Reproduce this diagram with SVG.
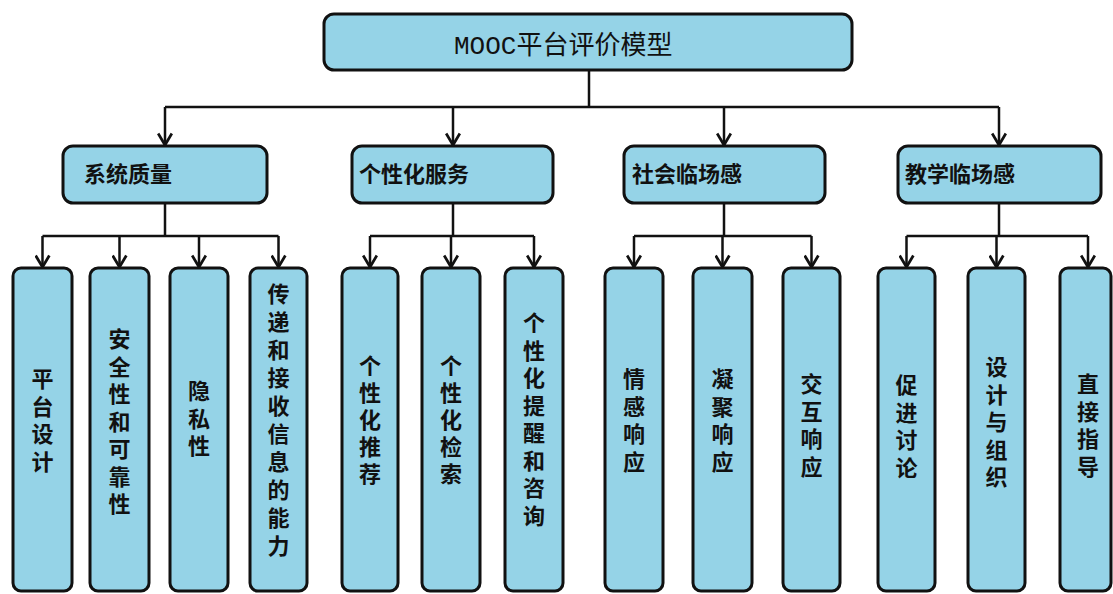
<svg xmlns="http://www.w3.org/2000/svg" width="1113" height="594" viewBox="0 0 1113 594">
<defs>
<marker id="arr" markerUnits="userSpaceOnUse" markerWidth="16" markerHeight="16" refX="11" refY="7" orient="auto" viewBox="0 0 14 14">
<path d="M1,1 L11,7 L1,13" fill="none" stroke="#111" stroke-width="2.4"/>
</marker>
<style>
.box{fill:#95D3E7;stroke:#111;stroke-width:3}
.ln{fill:none;stroke:#111;stroke-width:2.5}
.ar{fill:none;stroke:#111;stroke-width:2.5;marker-end:url(#arr)}
.top{font-family:"Liberation Mono","Noto Sans CJK SC",monospace;font-size:26px;fill:#111}
.l2{font-family:"Noto Sans CJK SC",sans-serif;font-size:22px;font-weight:bold;fill:#111}
.lf{font-family:"Liberation Sans","Noto Sans CJK SC",sans-serif;font-size:22px;font-weight:bold;fill:#111;text-anchor:middle}
</style>
</defs>
<rect width="1113" height="594" fill="#fff"/>
<g id="connectors">
<path class="ln" d="M589,70 V107 M165,107 H999"/>
<path class="ar" d="M165,107 V145"/>
<path class="ar" d="M453,107 V145"/>
<path class="ar" d="M724,107 V145"/>
<path class="ar" d="M999,107 V145"/>
<path class="ln" d="M165,203 V236 M42.5,236 H278.5"/>
<path class="ar" d="M42.5,236 V267"/>
<path class="ar" d="M119.5,236 V267"/>
<path class="ar" d="M199,236 V267"/>
<path class="ar" d="M278.5,236 V267"/>
<path class="ln" d="M453,203 V236 M370,236 H534"/>
<path class="ar" d="M370,236 V267"/>
<path class="ar" d="M451,236 V267"/>
<path class="ar" d="M534,236 V267"/>
<path class="ln" d="M724,203 V236 M634,236 H811.5"/>
<path class="ar" d="M634,236 V267"/>
<path class="ar" d="M722.5,236 V267"/>
<path class="ar" d="M811.5,236 V267"/>
<path class="ln" d="M999,203 V236 M906.5,236 H1088"/>
<path class="ar" d="M906.5,236 V267"/>
<path class="ar" d="M996.5,236 V267"/>
<path class="ar" d="M1088,236 V267"/>
</g>
<g id="root">
<rect class="box" x="324" y="14" width="528" height="56" rx="10"/>
<text class="top" x="454" y="54">MOOC平台评价模型</text>
</g>
<g id="n-xitong">
<rect class="box" x="63" y="146" width="204" height="57" rx="10"/>
<text class="l2" x="84" y="182">系统质量</text>
</g>
<g id="n-gexinghua">
<rect class="box" x="352" y="146" width="201" height="57" rx="10"/>
<text class="l2" x="359" y="182">个性化服务</text>
</g>
<g id="n-shehui">
<rect class="box" x="624" y="146" width="201" height="57" rx="10"/>
<text class="l2" x="632" y="182">社会临场感</text>
</g>
<g id="n-jiaoxue">
<rect class="box" x="898" y="146" width="203" height="57" rx="10"/>
<text class="l2" x="905" y="182">教学临场感</text>
</g>
<g id="leaf1">
<rect class="box" x="13" y="268" width="59" height="323" rx="8"/>
<text class="lf" x="42.5" y="387"><tspan x="42.5">平</tspan><tspan x="42.5" dy="27.5">台</tspan><tspan x="42.5" dy="27.5">设</tspan><tspan x="42.5" dy="27.5">计</tspan></text>
</g>
<g id="leaf2">
<rect class="box" x="90" y="268" width="59" height="323" rx="8"/>
<text class="lf" x="119.5" y="347"><tspan x="119.5">安</tspan><tspan x="119.5" dy="27.5">全</tspan><tspan x="119.5" dy="27.5">性</tspan><tspan x="119.5" dy="27.5">和</tspan><tspan x="119.5" dy="27.5">可</tspan><tspan x="119.5" dy="27.5">靠</tspan><tspan x="119.5" dy="27.5">性</tspan></text>
</g>
<g id="leaf3">
<rect class="box" x="170" y="268" width="58" height="323" rx="8"/>
<text class="lf" x="199" y="399"><tspan x="199">隐</tspan><tspan x="199" dy="27.5">私</tspan><tspan x="199" dy="27.5">性</tspan></text>
</g>
<g id="leaf4">
<rect class="box" x="250" y="268" width="57" height="323" rx="8"/>
<text class="lf" x="278.5" y="302"><tspan x="278.5">传</tspan><tspan x="278.5" dy="28">递</tspan><tspan x="278.5" dy="28">和</tspan><tspan x="278.5" dy="28">接</tspan><tspan x="278.5" dy="28">收</tspan><tspan x="278.5" dy="28">信</tspan><tspan x="278.5" dy="28">息</tspan><tspan x="278.5" dy="28">的</tspan><tspan x="278.5" dy="28">能</tspan><tspan x="278.5" dy="28">力</tspan></text>
</g>
<g id="leaf5">
<rect class="box" x="342" y="268" width="56" height="323" rx="8"/>
<text class="lf" x="370" y="374"><tspan x="370">个</tspan><tspan x="370" dy="27">性</tspan><tspan x="370" dy="27">化</tspan><tspan x="370" dy="27">推</tspan><tspan x="370" dy="27">荐</tspan></text>
</g>
<g id="leaf6">
<rect class="box" x="422" y="268" width="58" height="323" rx="8"/>
<text class="lf" x="451" y="374"><tspan x="451">个</tspan><tspan x="451" dy="27">性</tspan><tspan x="451" dy="27">化</tspan><tspan x="451" dy="27">检</tspan><tspan x="451" dy="27">索</tspan></text>
</g>
<g id="leaf7">
<rect class="box" x="505" y="268" width="58" height="323" rx="8"/>
<text class="lf" x="534" y="331"><tspan x="534">个</tspan><tspan x="534" dy="27.5">性</tspan><tspan x="534" dy="27.5">化</tspan><tspan x="534" dy="27.5">提</tspan><tspan x="534" dy="27.5">醒</tspan><tspan x="534" dy="27.5">和</tspan><tspan x="534" dy="27.5">咨</tspan><tspan x="534" dy="27.5">询</tspan></text>
</g>
<g id="leaf8">
<rect class="box" x="605" y="268" width="58" height="323" rx="8"/>
<text class="lf" x="634" y="387"><tspan x="634">情</tspan><tspan x="634" dy="27.5">感</tspan><tspan x="634" dy="27.5">响</tspan><tspan x="634" dy="27.5">应</tspan></text>
</g>
<g id="leaf9">
<rect class="box" x="693" y="268" width="59" height="323" rx="8"/>
<text class="lf" x="722.5" y="387"><tspan x="722.5">凝</tspan><tspan x="722.5" dy="27.5">聚</tspan><tspan x="722.5" dy="27.5">响</tspan><tspan x="722.5" dy="27.5">应</tspan></text>
</g>
<g id="leaf10">
<rect class="box" x="783" y="268" width="57" height="323" rx="8"/>
<text class="lf" x="811.5" y="392"><tspan x="811.5">交</tspan><tspan x="811.5" dy="27.5">互</tspan><tspan x="811.5" dy="27.5">响</tspan><tspan x="811.5" dy="27.5">应</tspan></text>
</g>
<g id="leaf11">
<rect class="box" x="878" y="268" width="57" height="323" rx="8"/>
<text class="lf" x="906.5" y="393"><tspan x="906.5">促</tspan><tspan x="906.5" dy="27.5">进</tspan><tspan x="906.5" dy="27.5">讨</tspan><tspan x="906.5" dy="27.5">论</tspan></text>
</g>
<g id="leaf12">
<rect class="box" x="968" y="268" width="57" height="323" rx="8"/>
<text class="lf" x="996.5" y="375"><tspan x="996.5">设</tspan><tspan x="996.5" dy="27.5">计</tspan><tspan x="996.5" dy="27.5">与</tspan><tspan x="996.5" dy="27.5">组</tspan><tspan x="996.5" dy="27.5">织</tspan></text>
</g>
<g id="leaf13">
<rect class="box" x="1060" y="268" width="51" height="323" rx="8"/>
<text class="lf" x="1088" y="392"><tspan x="1088">直</tspan><tspan x="1088" dy="27.5">接</tspan><tspan x="1088" dy="27.5">指</tspan><tspan x="1088" dy="27.5">导</tspan></text>
</g>
</svg>
